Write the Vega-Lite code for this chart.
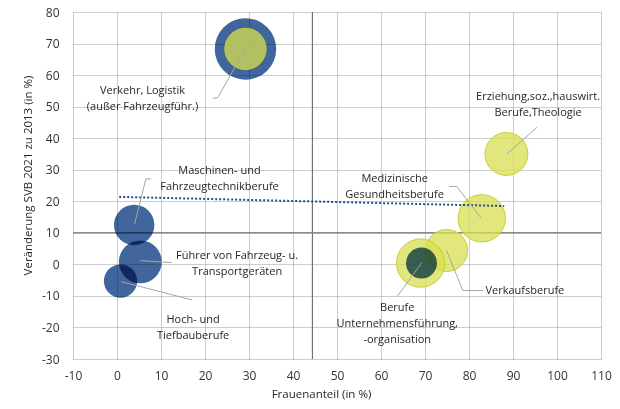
{
  "$schema": "https://vega.github.io/schema/vega-lite/v6.json",
  "width": 528,
  "height": 347,
  "autosize": {"type": "none"},
  "padding": {"left": 73, "top": 12, "right": 19, "bottom": 50},
  "background": "white",
  "config": {
    "font": "Open Sans",
    "view": {"stroke": null},
    "axis": {
      "grid": true,
      "gridColor": "#9a9a9a",
      "gridDash": [1, 1],
      "gridWidth": 1,
      "domain": false,
      "ticks": false,
      "labelOverlap": false,
      "labelFlush": false,
      "labelFont": "Open Sans",
      "labelFontSize": 12,
      "labelColor": "#333333",
      "titleFont": "Open Sans",
      "titleFontSize": 11.5,
      "titleFontWeight": "normal",
      "titleColor": "#262626"
    }
  },
  "datasets": {
    "bubbles": [
      {"beruf": "Verkehr, Logistik (außer Fahrzeugführ.)", "reihe": "Serie 1", "frauenanteil": 29.2, "veraenderung": 68.3, "svb": 120.4},
      {"beruf": "Verkehr, Logistik (außer Fahrzeugführ.)", "reihe": "Serie 2", "frauenanteil": 29.2, "veraenderung": 68.3, "svb": 54.3},
      {"beruf": "Maschinen- und Fahrzeugtechnikberufe", "reihe": "Serie 1", "frauenanteil": 3.9, "veraenderung": 12.5, "svb": 52.0},
      {"beruf": "Führer von Fahrzeug- u. Transportgeräten", "reihe": "Serie 1", "frauenanteil": 5.3, "veraenderung": 0.8, "svb": 58.6},
      {"beruf": "Hoch- und Tiefbauberufe", "reihe": "Serie 1", "frauenanteil": 0.8, "veraenderung": -5.3, "svb": 35.3},
      {"beruf": "Erziehung, soz., hauswirt. Berufe, Theologie", "reihe": "Serie 2", "frauenanteil": 88.5, "veraenderung": 35.0, "svb": 58.6},
      {"beruf": "Medizinische Gesundheitsberufe", "reihe": "Serie 2", "frauenanteil": 82.9, "veraenderung": 14.6, "svb": 71.3},
      {"beruf": "Verkaufsberufe", "reihe": "Serie 2", "frauenanteil": 74.9, "veraenderung": 4.4, "svb": 56.2},
      {"beruf": "Berufe Unternehmensführung, -organisation", "reihe": "Serie 2", "frauenanteil": 69.0, "veraenderung": 0.4, "svb": 74.0},
      {"beruf": "Berufe Unternehmensführung, -organisation", "reihe": "Serie 1", "frauenanteil": 69.2, "veraenderung": 0.4, "svb": 30.6}
    ],
    "labels": [
      {"text": "Verkehr, Logistik\n(außer Fahrzeugführ.)", "x": 5.8, "y": 54.8},
      {"text": "Maschinen- und\nFahrzeugtechnikberufe", "x": 23.3, "y": 29.7},
      {"text": "Führer von Fahrzeug- u.\nTransportgeräten", "x": 27.3, "y": 2.7},
      {"text": "Hoch- und\nTiefbauberufe", "x": 17.3, "y": -17.6},
      {"text": "Erziehung,soz.,hauswirt.\nBerufe,Theologie", "x": 95.7, "y": 53.2},
      {"text": "Medizinische\nGesundheitsberufe", "x": 63.1, "y": 27.0},
      {"text": "Verkaufsberufe", "x": 92.7, "y": -8.6},
      {"text": "Berufe\nUnternehmensführung,\n-organisation", "x": 63.7, "y": -13.9}
    ],
    "leaders": [
      {"x": 21.75, "y": 52.6, "x2": 22.9, "y2": 52.9},
      {"x": 22.9, "y": 52.9, "x2": 29.2, "y2": 68.3},
      {"x": 7.66, "y": 27.1, "x2": 6.56, "y2": 27.1},
      {"x": 6.56, "y": 27.1, "x2": 4.0, "y2": 12.8},
      {"x": 12.4, "y": 0.55, "x2": 5.3, "y2": 1.2},
      {"x": 17.1, "y": -11.3, "x2": 1.0, "y2": -5.5},
      {"x": 95.5, "y": 43.5, "x2": 88.6, "y2": 35.0},
      {"x": 75.5, "y": 24.7, "x2": 77.2, "y2": 24.7},
      {"x": 77.2, "y": 24.7, "x2": 82.8, "y2": 14.6},
      {"x": 83.2, "y": -8.3, "x2": 78.6, "y2": -8.3},
      {"x": 78.6, "y": -8.3, "x2": 74.9, "y2": 4.4},
      {"x": 63.7, "y": -10.2, "x2": 69.2, "y2": 0.4}
    ],
    "trend": [
      {"x": 0.5, "y": 21.4},
      {"x": 88.0, "y": 18.5}
    ]
  },
  "layer": [
    {
      "data": {"name": "bubbles"},
      "mark": {"type": "point", "opacity": 0},
      "encoding": {
        "x": {
          "field": "frauenanteil", "type": "quantitative",
          "scale": {"domain": [-10, 110], "nice": false, "zero": false},
          "axis": {"values": [-10, 0, 10, 20, 30, 40, 50, 60, 70, 80, 90, 100, 110], "labelExpr": "datum.value < 0 ? '-' + abs(datum.value) : '' + datum.value", "title": "Frauenanteil (in %)", "labelPadding": 11, "titlePadding": 7, "titleX": 248}
        },
        "y": {
          "field": "veraenderung", "type": "quantitative",
          "scale": {"domain": [-30, 80], "nice": false, "zero": false},
          "axis": {"tickCount": 11, "labelExpr": "datum.value < 0 ? '-' + abs(datum.value) : '' + datum.value", "title": "Veränderung SVB 2021 zu 2013 (in %)", "labelPadding": 14, "titleX": -45, "titleY": 163, "titleBaseline": "middle"}
        }
      }
    },
    {
      "data": {"values": [{"wert": 44.4}]},
      "mark": {"type": "rule", "color": "#595959", "strokeWidth": 1},
      "encoding": {"x": {"field": "wert", "type": "quantitative"}}
    },
    {
      "data": {"values": [{"wert": 10}]},
      "mark": {"type": "rule", "color": "#8c8c8c", "strokeWidth": 1.5},
      "encoding": {"y": {"field": "wert", "type": "quantitative"}}
    },
    {
      "data": {"name": "bubbles"},
      "transform": [{"filter": "datum.reihe === 'Serie 1' && datum.frauenanteil < 50"}],
      "mark": {"type": "point", "shape": "circle", "filled": true, "strokeWidth": 1, "color": "#1e4b8c", "fillOpacity": 0.85, "strokeOpacity": 0.85, "blend": "multiply"},
      "encoding": {
        "x": {"field": "frauenanteil", "type": "quantitative"},
        "y": {"field": "veraenderung", "type": "quantitative"},
        "size": {"field": "svb", "type": "quantitative", "scale": {"type": "linear", "domain": [0, 100], "range": [0, 3141.6]}, "legend": null}
      }
    },
    {
      "data": {"name": "bubbles"},
      "transform": [{"filter": "datum.reihe === 'Serie 2'"}],
      "mark": {"type": "point", "shape": "circle", "filled": true, "strokeWidth": 1, "fill": "#d8df52", "stroke": "#c6d02c", "fillOpacity": 0.75, "strokeOpacity": 1},
      "encoding": {
        "x": {"field": "frauenanteil", "type": "quantitative"},
        "y": {"field": "veraenderung", "type": "quantitative"},
        "size": {"field": "svb", "type": "quantitative", "scale": {"type": "linear", "domain": [0, 100], "range": [0, 3141.6]}, "legend": null}
      }
    },
    {
      "data": {"name": "bubbles"},
      "transform": [{"filter": "datum.reihe === 'Serie 1' && datum.frauenanteil >= 50"}],
      "mark": {"type": "point", "shape": "circle", "filled": true, "strokeWidth": 1, "color": "#1e4b8c", "fillOpacity": 0.85, "strokeOpacity": 0.85, "blend": "multiply"},
      "encoding": {
        "x": {"field": "frauenanteil", "type": "quantitative"},
        "y": {"field": "veraenderung", "type": "quantitative"},
        "size": {"field": "svb", "type": "quantitative", "scale": {"type": "linear", "domain": [0, 100], "range": [0, 3141.6]}, "legend": null}
      }
    },
    {
      "data": {"name": "trend"},
      "mark": {"type": "line", "color": "#1f4f8c", "strokeWidth": 2, "strokeDash": [2, 2]},
      "encoding": {
        "x": {"field": "x", "type": "quantitative"},
        "y": {"field": "y", "type": "quantitative"}
      }
    },
    {
      "data": {"name": "leaders"},
      "mark": {"type": "rule", "color": "#a6a6a6", "strokeWidth": 1},
      "encoding": {
        "x": {"field": "x", "type": "quantitative"},
        "y": {"field": "y", "type": "quantitative"},
        "x2": {"field": "x2"},
        "y2": {"field": "y2"}
      }
    },
    {
      "data": {"name": "labels"},
      "mark": {"type": "text", "font": "Open Sans", "fontSize": 11, "color": "#262626", "align": "center", "baseline": "middle", "lineBreak": "\n", "lineHeight": 16},
      "encoding": {
        "x": {"field": "x", "type": "quantitative"},
        "y": {"field": "y", "type": "quantitative"},
        "text": {"field": "text", "type": "nominal"}
      }
    }
  ]
}
